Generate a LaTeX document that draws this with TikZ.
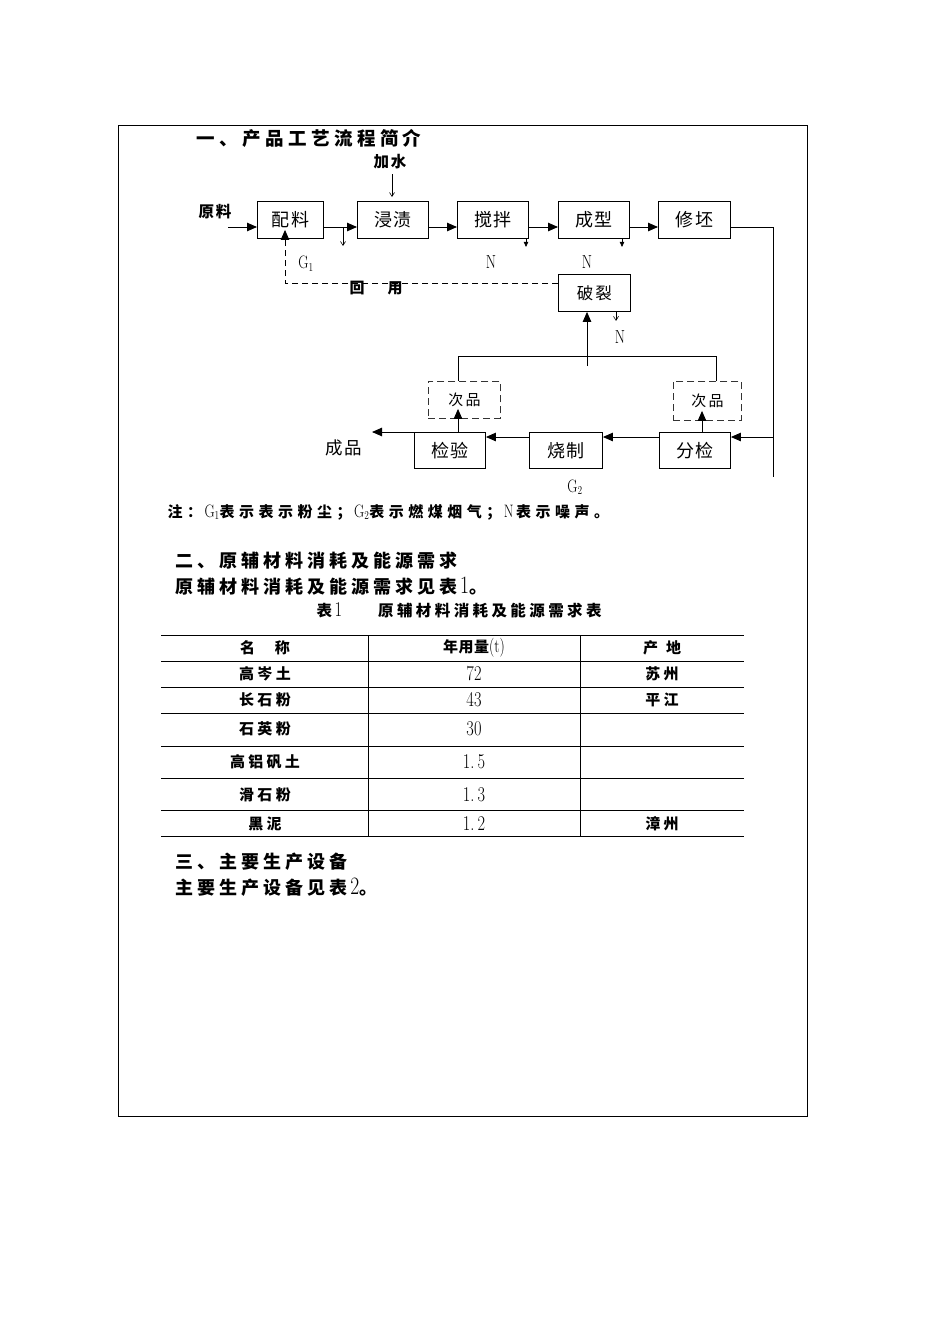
\documentclass[tikz,border=0pt]{standalone}
\usepackage{fontspec}
\usepackage{graphicx}
\usetikzlibrary{arrows.meta}
\newfontfamily\cjk{Noto Sans CJK SC}
\newcommand\Z[2]{\cjk\fontsize{#1}{#1}\selectfont\addfontfeature{LetterSpace=#2}}
\newcommand\ZB[2]{\cjk\bfseries\fontsize{#1}{#1}\selectfont\addfontfeature{LetterSpace=#2}}
\newcommand\Lt[2]{{\rmfamily\mdseries\fontsize{#1}{#1}\selectfont\scalebox{0.78}[1]{#2}}}
\begin{document}
\begin{tikzpicture}[x=1pt,y=-1pt,
  box/.style={draw, line width=0.9pt, inner sep=0pt, minimum height=37pt, anchor=north west, font=\Z{18}{10}},
  dbox/.style={draw=black!80, dash pattern=on 7pt off 4pt, line width=0.9pt, inner sep=0pt, anchor=north west, font=\Z{15}{16}},
  arr/.style={-{Triangle[length=10pt,width=8.5pt]}, line width=0.9pt},
  barb/.style={-{Straight Barb[length=4pt,width=5pt]}, line width=0.6pt},
  tinyarr/.style={-{Triangle[length=5pt,width=4.5pt]}, line width=0.6pt},
  cell/.style={font=\ZB{15}{22}},
  rule/.style={line width=0.9pt}
  ]
\useasboundingbox (0,0) rectangle (950,1344);
% frame
\draw[line width=0.8pt] (118,125) rectangle (807,1116);
% heading
\node[anchor=west, font=\ZB{18.5}{24}] (t1) at (193,138) {一、产品工艺流程简介};
% process boxes
\node[box, minimum width=66pt] (pl) at (257,201) {配料};
\node[box, minimum width=71pt] (jz) at (357,201) {浸渍};
\node[box, minimum width=71pt] (jb) at (457,201) {搅拌};
\node[box, minimum width=71pt] (cx) at (558,201) {成型};
\node[box, minimum width=72pt] (xp) at (658,201) {修坯};
\node[box, minimum width=72pt, font=\Z{16.5}{12}] (pl2) at (558,274) {破裂\hspace{12pt}};
\node[box, minimum width=71pt, minimum height=36pt] (jy) at (414,432) {检验};
\node[box, minimum width=73pt, minimum height=36pt] (sz) at (529,432) {烧制};
\node[box, minimum width=71pt, minimum height=36pt] (fj) at (659,432) {分检};
\node[dbox, minimum width=72pt, minimum height=37pt] (cp1) at (428,381) {次品};
\node[dbox, minimum width=68pt, minimum height=39pt] (cp2) at (673,381) {次品};
% labels
\node[font=\ZB{15.5}{10}] (js) at (390,162) {加水};
\node[font=\ZB{15.5}{10}] (yl) at (215,212) {原料};
\node (g1) at (306,264) {\Lt{18}{G$_1$}};
\node (n1) at (491,262) {\Lt{19}{N}};
\node (n2) at (587,262) {\Lt{19}{N}};
\node (n3) at (620,337) {\Lt{19}{N}};
\node (g2) at (575,487) {\Lt{18}{G$_2$}};
\node[font=\ZB{15}{0}] (hui) at (357,288) {回};
\node[font=\ZB{15}{0}] (yong) at (395,288) {用};
\node[font=\Z{17.5}{10}] (cp) at (344,448) {成品};
% coordinates
\coordinate (ylend) at (228,227);
\coordinate (cpend) at (372,432);
\coordinate (jsend) at (392,174);
\coordinate (d1) at (343,227);
\coordinate (d1e) at (343,246);
\coordinate (rc) at (773,227);
\coordinate (rb) at (773,477);
% main flow
\draw[arr] (ylend) -- (pl.west |- ylend);
\draw[arr] (pl.east |- ylend) -- (jz.west |- ylend);
\draw[arr] (jz.east |- ylend) -- (jb.west |- ylend);
\draw[arr] (jb.east |- ylend) -- (cx.west |- ylend);
\draw[arr] (cx.east |- ylend) -- (xp.west |- ylend);
\draw[barb, shorten >=4pt] (jsend) -- (jz.north -| jsend);
\draw[barb] (d1) -- (d1e);
\draw[tinyarr] (jb.south -| 526,0) -- ++(0,8);
\draw[tinyarr] (cx.south -| 622,0) -- ++(0,8);
\draw[barb] (pl2.south -| 616,0) -- ++(0,9);
% right loop
\draw[rule] (xp.east |- rc) -- (rc) -- (rb);
\draw[arr] (773,437) -- (fj.east |- 0,437);
\draw[arr] (fj.west |- 0,437) -- (sz.east |- 0,437);
\draw[arr] (sz.west |- 0,437) -- (jy.east |- 0,437);
\draw[arr] (jy.west |- cpend) -- (cpend);
% rejects
\draw[arr, shorten >=-10pt] (jy.north -| 458,0) -- (cp1.south -| 458,0);
\draw[arr, shorten >=-10pt] (fj.north -| 702,0) -- (cp2.south -| 702,0);
\draw[rule] (cp1.north -| 458,0) -- (458,356) -- (716,356) -- (cp2.north -| 716,0);
\draw[arr] (587,366) -- (pl2.south -| 587,0);
% recycle dashed
\draw[line width=0.9pt, dash pattern=on 6pt off 4pt, -{Triangle[length=10pt,width=8.5pt]}, shorten >=-9pt]
  (pl2.west |- 0,283) -- (285,283) -- (pl.south -| 285,0);
% note
\node[anchor=west] (note) at (164,512) {\ZB{15}{30}注：\,\Lt{18}{G$_1$}表示表示粉尘；\,\Lt{18}{G$_2$}表示燃煤烟气；\,\Lt{18}{N}\,表示噪声。};
% section 2
\node[anchor=west, font=\ZB{18}{22}] (s2) at (172,561) {二、原辅材料消耗及能源需求};
\node[anchor=west] (s2b) at (172,586) {\ZB{18}{22}原辅材料消耗及能源需求见表\,\Lt{25}{1}。};
\node[anchor=west] (cap) at (313,610) {\ZB{15.5}{22}表\,\Lt{21}{1}\hspace{36pt}原辅材料消耗及能源需求表};
% table
\foreach \yy in {635,661,687,713,746,778,810,836} \draw[rule] (161,\yy) -- (744,\yy);
\draw[line width=0.7pt] (368,635) -- (368,836);
\draw[line width=0.7pt] (580,635) -- (580,836);
\node[cell] (h1) at (265,648) {名\hspace{20pt}称};
\node (h2) at (474,648) {\ZB{15}{4}年用量\Lt{19}{(t)}};
\node[cell] (h3) at (662,648) {产\hspace{8pt}地};
\node[cell] (r1a) at (265,674) {高岑土};
\node[cell] (r2a) at (265,700) {长石粉};
\node[cell] (r3a) at (265,729) {石英粉};
\node[cell] (r4a) at (265,762) {高铝矾土};
\node[cell] (r5a) at (265,795) {滑石粉};
\node[cell] (r6a) at (265,824) {黑泥};
\node (r1b) at (474,674) {\Lt{21}{72}};
\node (r2b) at (474,700) {\Lt{21}{43}};
\node (r3b) at (474,729) {\Lt{21}{30}};
\node (r4b) at (474,762) {\Lt{21}{1.\hspace{4pt}5}};
\node (r5b) at (474,795) {\Lt{21}{1.\hspace{4pt}3}};
\node (r6b) at (474,824) {\Lt{21}{1.\hspace{4pt}2}};
\node[cell] (r1c) at (662,674) {苏州};
\node[cell] (r2c) at (662,700) {平江};
\node[cell] (r6c) at (662,824) {漳州};
% section 3
\node[anchor=west, font=\ZB{18}{22}] (s3) at (172,862) {三、主要生产设备};
\node[anchor=west] (s3b) at (172,887) {\ZB{18}{22}主要生产设备见表\,\Lt{25}{2}。};
\end{tikzpicture}
\end{document}
